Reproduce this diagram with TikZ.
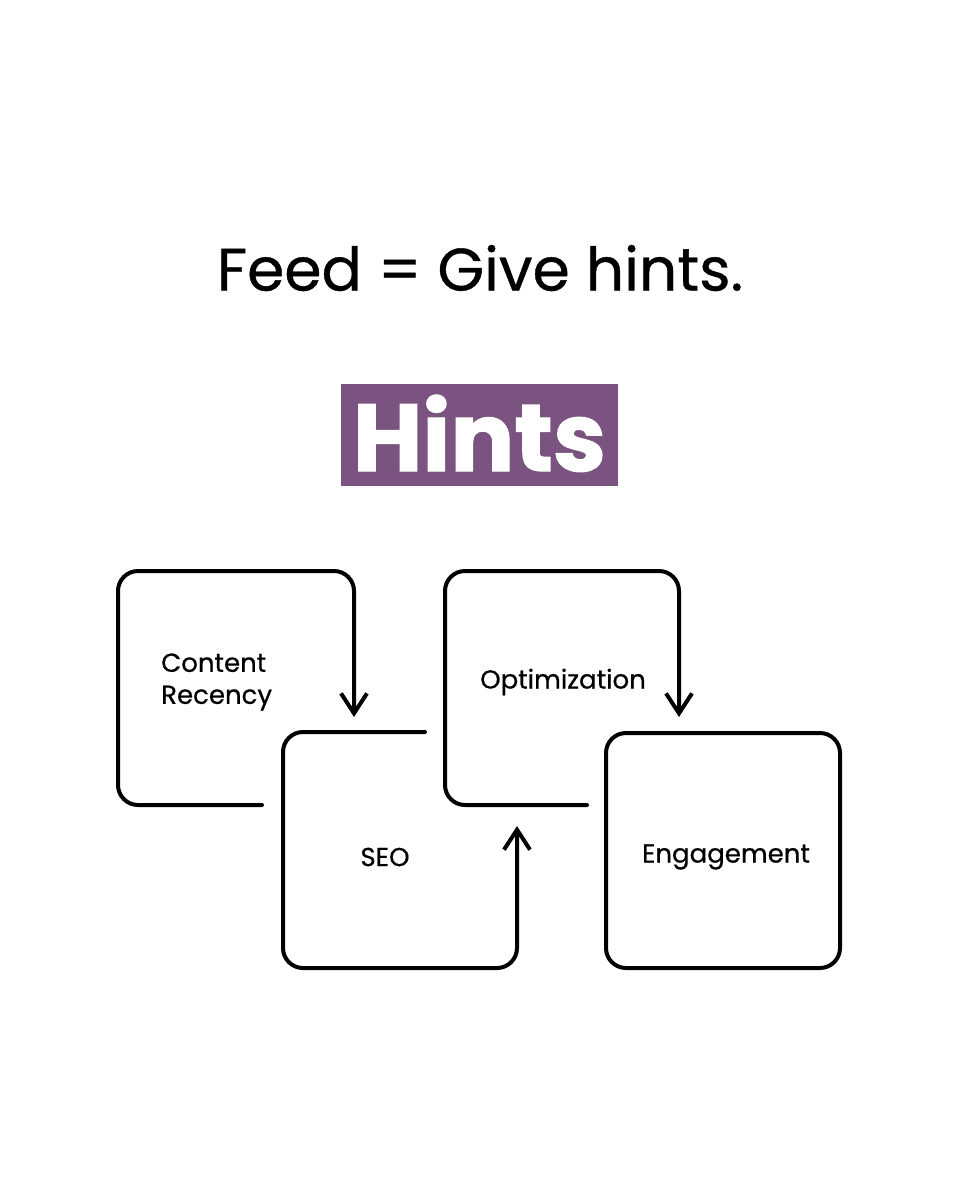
\documentclass[tikz,border=0pt]{standalone}
\usepackage{fontspec}
\setmainfont{Poppins}
\newfontfamily\mediumfont[FakeBold=0.6]{Poppins}
\newfontfamily\heavyfont[BoldFeatures={FakeBold=1.4}]{Poppins}
\usetikzlibrary{arrows.meta}
\definecolor{hintpurple}{HTML}{7A5380}
\tikzset{
  sketch/.style = {line width=#1, rounded corners=20pt,
                   line cap=round, line join=round},
  sketch/.default = 4pt,
  barb/.style = {-{Straight Barb[length=20pt,width=26pt]}},
  label/.style = {font=\mediumfont\fontsize{26}{32}\selectfont, inner sep=0pt}
}

\begin{document}
\begin{tikzpicture}[x=1pt, y=-1pt]
	\useasboundingbox[fill=white] (0,0) rectangle (960,1200);

	% Title
	\node[font=\mediumfont\fontsize{60}{70}\selectfont, inner sep=0pt] (feed) at (480,268) {Feed = Give hints.};

	% Hints banner
	\node[fill=hintpurple, text=white, minimum width=277, minimum height=102,
	      inner sep=0pt, text height=72pt, text depth=0pt,
	      font=\heavyfont\fontsize{95}{98}\bfseries\selectfont] (hints) at (479.5,435) {Hints};

	% Content Recency
	\draw[sketch, barb] (262,805) -- (118,805) -- (118,571) -- (354,571) -- (354,717) coordinate (recency-out);
	\node[label, align=left, anchor=west] (recency) at (161,682) {Content\\Recency};

	% SEO
	\draw[sketch, barb] (425,732) -- (283,732) -- (283,968) -- (517,968) -- (517,826) coordinate (seo-out);
	\node[label] (seo) at (385,857) {SEO};

	% Optimization
	\draw[sketch, barb] (587,805) -- (445,805) -- (445,571) -- (679,571) -- (679,717) coordinate (optim-out);
	\node[label] (optim) at (563,682) {Optimization};

	% Engagement
	\draw[sketch] (606,733) rectangle (840,968);
	\node[label] (engage) at (726,857) {Engagement};

\end{tikzpicture}
\end{document}
